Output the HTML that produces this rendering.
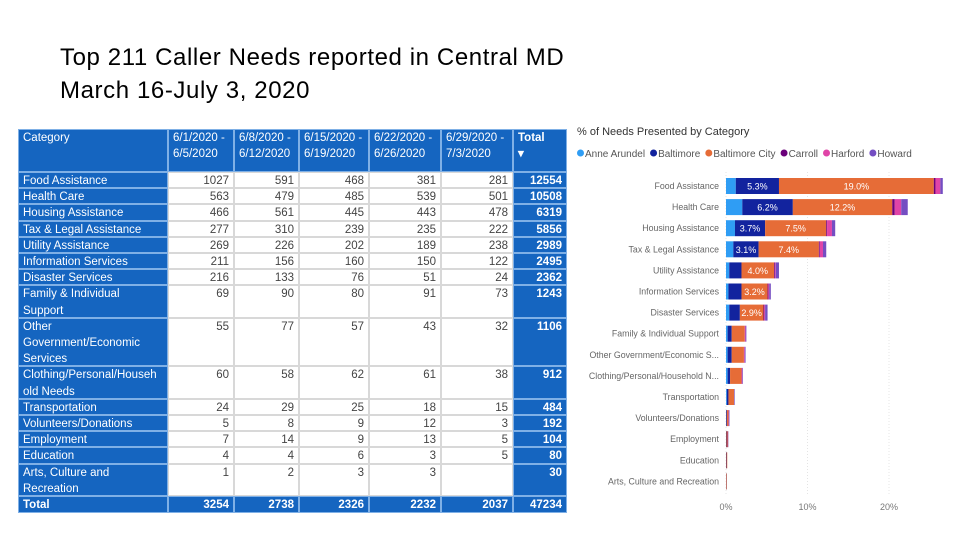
<!DOCTYPE html>
<html><head><meta charset="utf-8">
<style>
body{margin:0;width:960px;height:540px;background:#fff;position:relative;overflow:hidden;font-family:"Liberation Sans",sans-serif;}
.t{position:absolute;white-space:nowrap;}
#tbl div{position:absolute;box-sizing:border-box;font-size:11.5px;line-height:16.2px;padding:0 4px;overflow:hidden;}
.c-blue{background:#1565c0;color:#fff;border:1px solid #7fb0e6;}
.c-white{background:#fff;color:#444;border:1px solid #d8d8d8;text-align:right;}
.c-tot{background:#1565c0;color:#fff;font-weight:bold;text-align:right;border:1px solid #7fb0e6;}
</style></head><body>
<div class="t" style="left:60px;top:41px;font-size:24px;letter-spacing:0.6px;line-height:33px;color:#000;">Top 211 Caller Needs reported in Central MD<br>March 16-July 3, 2020</div>
<div id="tbl"></div>
<svg id="chart" width="960" height="540" style="position:absolute;left:0;top:0;" font-family="Liberation Sans, sans-serif"></svg>
<script>
const colX=[18,168,234,299,369,441,513,567];
const headers=["Category","6/1/2020 -<br>6/5/2020","6/8/2020 -<br>6/12/2020","6/15/2020 -<br>6/19/2020","6/22/2020 -<br>6/26/2020","6/29/2020 -<br>7/3/2020","Total<br>&#9662;"];
const rowNames=["Food Assistance","Health Care","Housing Assistance","Tax &amp; Legal Assistance","Utility Assistance","Information Services","Disaster Services","Family &amp; Individual<br>Support","Other<br>Government/Economic<br>Services","Clothing/Personal/Househ<br>old Needs","Transportation","Volunteers/Donations","Employment","Education","Arts, Culture and<br>Recreation"];
const rowLines=[1,1,1,1,1,1,1,2,3,2,1,1,1,1,2];
const w1=[1027,563,466,277,269,211,216,69,55,60,24,5,7,4,1];
const w2=[591,479,561,310,226,156,133,90,77,58,29,8,14,4,2];
const w3=[468,485,445,239,202,160,76,80,57,62,25,9,9,6,3];
const w4=[381,539,443,235,189,150,51,91,43,61,18,12,13,3,3];
const w5=[281,501,478,222,238,122,24,73,32,38,15,3,5,5,""];
const totals=[12554,10508,6319,5856,2989,2495,2362,1243,1106,912,484,192,104,80,30];
const colTotals=["Total",3254,2738,2326,2232,2037,47234];
const tbl=document.getElementById('tbl');
function cell(x0,x1,y,h,cls,html,name){
  const d=document.createElement('div');
  d.className=cls;d.style.left=x0+'px';d.style.top=y+'px';d.style.width=(x1-x0)+'px';d.style.height=h+'px';
  d.innerHTML=html;
  
  
  tbl.appendChild(d);return d;
}
const LH=16.2;
for(let c=0;c<7;c++){const d=cell(colX[c],colX[c+1],129,43,'c-blue',headers[c],'table-header');if(c==6)d.style.fontWeight='bold';}
let y=172;
const weeks=[w1,w2,w3,w4,w5];
for(let r=0;r<rowNames.length;r++){
  const h=rowLines[r]*LH;
  cell(colX[0],colX[1],y,h,'c-blue',rowNames[r],'row-category');
  for(let c=0;c<5;c++)cell(colX[c+1],colX[c+2],y,h,'c-white',weeks[c][r],'row-value');
  cell(colX[6],colX[7],y,h,'c-tot',totals[r],'row-total');
  y+=h;
}
for(let c=0;c<7;c++){const d=cell(colX[c],colX[c+1],y,17,'c-tot',colTotals[c],'total-row-cell');if(c==0)d.style.textAlign='left';}

// chart data
const cats=["Food Assistance","Health Care","Housing Assistance","Tax & Legal Assistance","Utility Assistance","Information Services","Disaster Services","Family & Individual Support","Other Government/Economic S...","Clothing/Personal/Household N...","Transportation","Volunteers/Donations","Employment","Education","Arts, Culture and Recreation"];
const seriesNames=["Anne Arundel","Baltimore","Baltimore City","Carroll","Harford","Howard"];
const annaArundel=[1.2,2.0,1.1,0.9,0.4,0.3,0.4,0.2,0.2,0.2,0.1,0.0,0.0,0.0,0.0];
const baltimore=[5.3,6.2,3.7,3.1,1.5,1.6,1.3,0.5,0.5,0.3,0.2,0.1,0.05,0.05,0.02];
const baltCity=[19.0,12.2,7.5,7.4,4.0,3.2,2.9,1.6,1.5,1.4,0.7,0.2,0.15,0.1,0.05];
const carroll=[0.2,0.3,0.1,0.1,0.1,0.1,0.1,0.0,0.0,0.0,0.0,0.0,0.05,0.0,0.0];
const harford=[0.6,0.8,0.6,0.4,0.1,0.1,0.1,0.1,0.1,0.1,0.0,0.05,0.0,0.0,0.0];
const howard=[0.3,0.8,0.4,0.4,0.4,0.2,0.3,0.1,0.1,0.05,0.05,0.05,0.0,0.0,0.0];
const xTicks=[0,10,20];
const series=[annaArundel,baltimore,baltCity,carroll,harford,howard];
const colors=["#2f9df4","#12239e","#e66c37","#6b007b","#e044a7","#744ec2"];
const svg=document.getElementById('chart');const NS='http://www.w3.org/2000/svg';
function el(tag,attrs,txt){const e=document.createElementNS(NS,tag);for(const k in attrs)e.setAttribute(k,attrs[k]);if(txt!==undefined)e.textContent=txt;svg.appendChild(e);return e;}
const x=v=>726+v*8.15;
const yC=i=>186+i*21.1;
const t=el('text',{x:577,y:135,'font-size':11,fill:'#333'},'% of Needs Presented by Category');


let lx=577;
seriesNames.forEach((n,i)=>{
  const c=el('circle',{cx:lx+3.5,cy:153,r:3.5,fill:colors[i]});
  
  
  const tx=el('text',{x:lx+8,y:157,'font-size':10,fill:'#555'},n);
  
  
  lx+=8+tx.getComputedTextLength()+5;
});
xTicks.forEach(v=>{
  const l=el('line',{x1:x(v),x2:x(v),y1:172,y2:494,stroke:'#e4e4e4','stroke-dasharray':'1,2'});
  
  
  const tx=el('text',{x:x(v),y:510,'font-size':9,fill:'#777','text-anchor':'middle'},v+'%');
  
  
});
cats.forEach((c,i)=>{
  const tx=el('text',{x:719,y:yC(i)+3,'font-size':8.8,fill:'#666','text-anchor':'end'},c);
  
  
  let acc=0;
  series.forEach((s,k)=>{
    const v=s[i];if(v<=0)return;
    const r=el('rect',{x:x(acc),y:yC(i)-8,width:Math.max(v*8.15,0.6),height:16,fill:colors[k]});
    
    
    if((k==1||k==2)&&v>=2.5){
      const lb=el('text',{x:x(acc+v/2),y:yC(i)+3.5,'font-size':9,fill:'#fff','text-anchor':'middle'},v.toFixed(1)+'%');
      
      
    }
    acc+=v;
  });
});
</script>
</body></html>
